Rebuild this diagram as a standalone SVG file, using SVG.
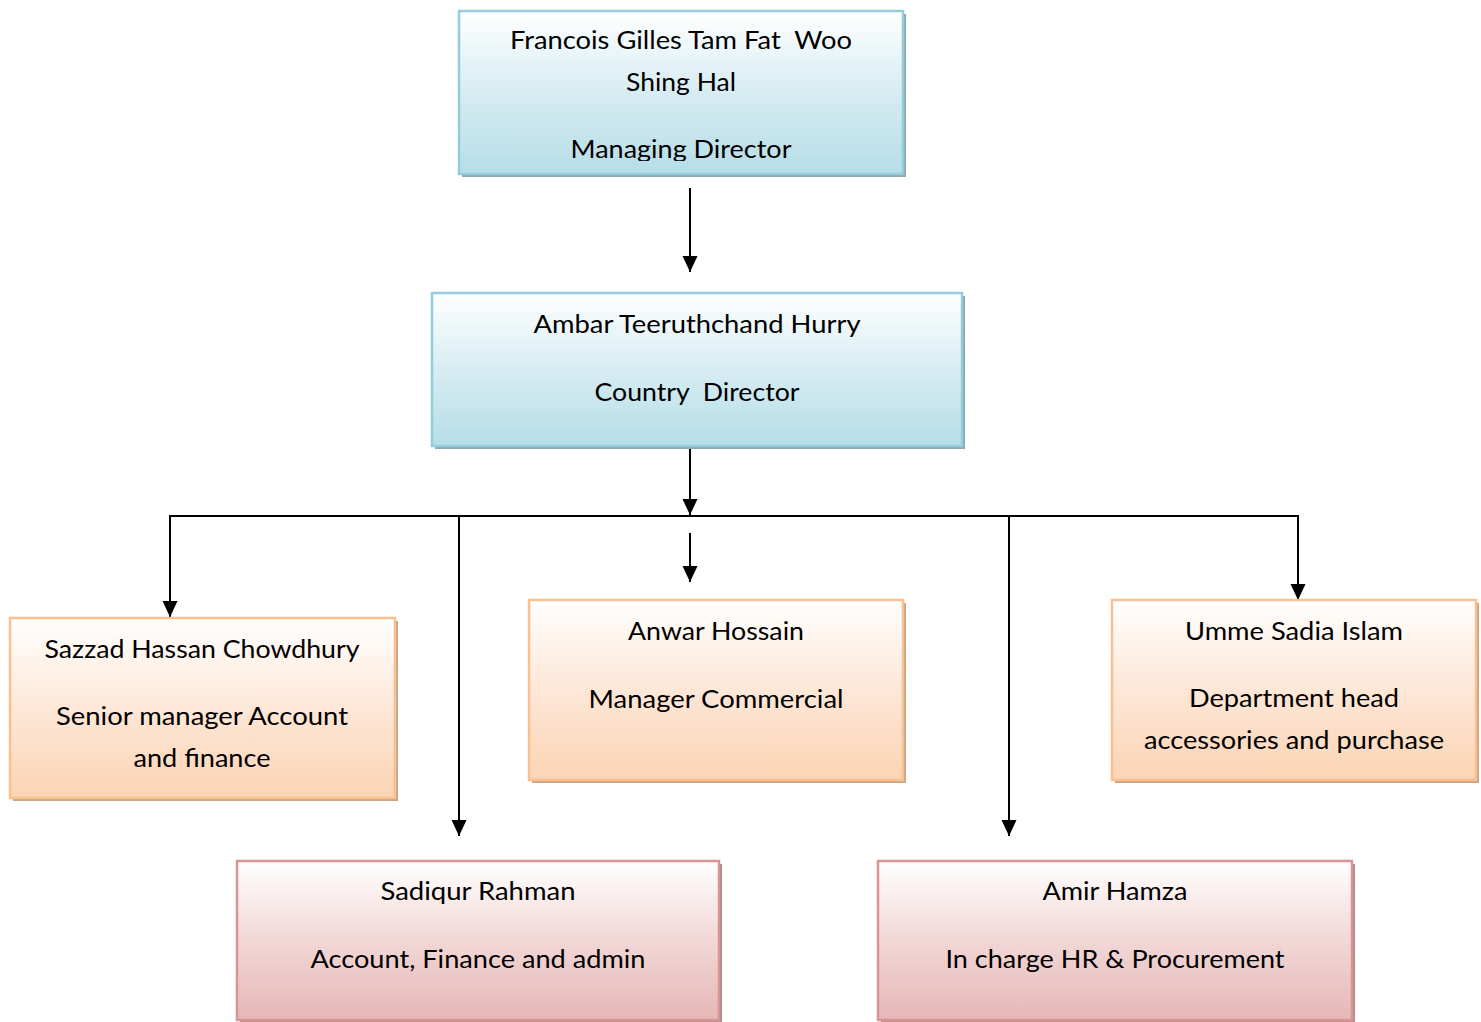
<svg xmlns="http://www.w3.org/2000/svg" width="1481" height="1022" viewBox="0 0 1481 1022">
<defs>
<linearGradient id="gBlue" x1="0" y1="0" x2="0" y2="1"><stop offset="0" stop-color="#ffffff"/><stop offset="0.55" stop-color="#d3ebf1"/><stop offset="1" stop-color="#b6dde8"/></linearGradient>
<linearGradient id="gOrange" x1="0" y1="0" x2="0" y2="1"><stop offset="0" stop-color="#ffffff"/><stop offset="0.5" stop-color="#fde7d7"/><stop offset="1" stop-color="#fbd4b4"/></linearGradient>
<linearGradient id="gPink" x1="0" y1="0" x2="0" y2="1"><stop offset="0" stop-color="#ffffff"/><stop offset="0.5" stop-color="#f1d7d6"/><stop offset="1" stop-color="#e5b8b7"/></linearGradient>
<marker id="arr" markerUnits="userSpaceOnUse" markerWidth="16" markerHeight="16" viewBox="0 0 16 16" refX="16" refY="8" orient="auto"><path d="M0,0.5 L16,8 L0,15.5 Z" fill="#000"/></marker>
<clipPath id="clipTop"><rect x="459" y="11" width="444" height="150"/></clipPath>
</defs>
<style>
.t{font-family:Lato,"Open Sans","Liberation Sans",sans-serif;font-size:25px;fill:#000;text-anchor:middle;white-space:pre}
.blue{fill:url(#gBlue);stroke:#93cddd;stroke-width:2.5}
.blueS{fill:#8fa7ae}
.orange{fill:url(#gOrange);stroke:#fac090;stroke-width:2.5}
.orangeS{fill:#c9a68a}
.pink{fill:url(#gPink);stroke:#d99594;stroke-width:2.5}
.pinkS{fill:#b48d8c}
.c{stroke:#000;stroke-width:2;fill:none}
.ca{stroke:#000;stroke-width:2;fill:none;marker-end:url(#arr)}
</style>
<g id="connectors">
<line class="ca" x1="690" y1="188" x2="690" y2="272"/>
<line class="ca" x1="690" y1="446" x2="690" y2="515"/>
<polyline class="c" points="170,617 170,516 1298,516 1298,600"/>
<line class="ca" x1="170" y1="516" x2="170" y2="617"/>
<line class="ca" x1="1298" y1="516" x2="1298" y2="600"/>
<line class="ca" x1="459" y1="516" x2="459" y2="836"/>
<line class="ca" x1="1009" y1="516" x2="1009" y2="836"/>
<line class="ca" x1="690" y1="533" x2="690" y2="582"/>
</g>
<g id="managing-director">
<rect class="blueS" x="462" y="14" width="444" height="163"/>
<rect class="blue" x="459" y="11" width="444" height="163"/>
<g clip-path="url(#clipTop)">
<text class="t" x="681" y="49" textLength="342" lengthAdjust="spacingAndGlyphs">Francois Gilles Tam Fat  Woo</text>
<text class="t" x="681" y="91" textLength="110" lengthAdjust="spacingAndGlyphs">Shing Hal</text>
<text class="t" x="681" y="158" textLength="221" lengthAdjust="spacingAndGlyphs">Managing Director</text>
</g>
</g>
<g id="country-director">
<rect class="blueS" x="435" y="296" width="530" height="153"/>
<rect class="blue" x="432" y="293" width="530" height="153"/>
<text class="t" x="697" y="333" textLength="327" lengthAdjust="spacingAndGlyphs">Ambar Teeruthchand Hurry</text>
<text class="t" x="697" y="401" textLength="205" lengthAdjust="spacingAndGlyphs">Country  Director</text>
</g>
<g id="sazzad">
<rect class="orangeS" x="13" y="621" width="385" height="180"/>
<rect class="orange" x="10" y="618" width="385" height="180"/>
<text class="t" x="202" y="658" textLength="315" lengthAdjust="spacingAndGlyphs">Sazzad Hassan Chowdhury</text>
<text class="t" x="202" y="725" textLength="292" lengthAdjust="spacingAndGlyphs">Senior manager Account</text>
<text class="t" x="202" y="767" textLength="137" lengthAdjust="spacingAndGlyphs">and finance</text>
</g>
<g id="anwar">
<rect class="orangeS" x="532" y="603" width="374" height="180"/>
<rect class="orange" x="529" y="600" width="374" height="180"/>
<text class="t" x="716" y="640" textLength="176" lengthAdjust="spacingAndGlyphs">Anwar Hossain</text>
<text class="t" x="716" y="708" textLength="255" lengthAdjust="spacingAndGlyphs">Manager Commercial</text>
</g>
<g id="umme">
<rect class="orangeS" x="1115" y="603" width="364" height="180"/>
<rect class="orange" x="1112" y="600" width="364" height="180"/>
<text class="t" x="1294" y="640" textLength="218" lengthAdjust="spacingAndGlyphs">Umme Sadia Islam</text>
<text class="t" x="1294" y="707" textLength="210" lengthAdjust="spacingAndGlyphs">Department head</text>
<text class="t" x="1294" y="749" textLength="300" lengthAdjust="spacingAndGlyphs">accessories and purchase</text>
</g>
<g id="sadiqur">
<rect class="pinkS" x="240" y="864" width="482" height="160"/>
<rect class="pink" x="237" y="861" width="482" height="159"/>
<text class="t" x="478" y="900" textLength="195" lengthAdjust="spacingAndGlyphs">Sadiqur Rahman</text>
<text class="t" x="478" y="968" textLength="335" lengthAdjust="spacingAndGlyphs">Account, Finance and admin</text>
</g>
<g id="amir">
<rect class="pinkS" x="881" y="864" width="474" height="160"/>
<rect class="pink" x="878" y="861" width="474" height="159"/>
<text class="t" x="1115" y="900" textLength="145" lengthAdjust="spacingAndGlyphs">Amir Hamza</text>
<text class="t" x="1115" y="968" textLength="339" lengthAdjust="spacingAndGlyphs">In charge HR &amp; Procurement</text>
</g>
</svg>
